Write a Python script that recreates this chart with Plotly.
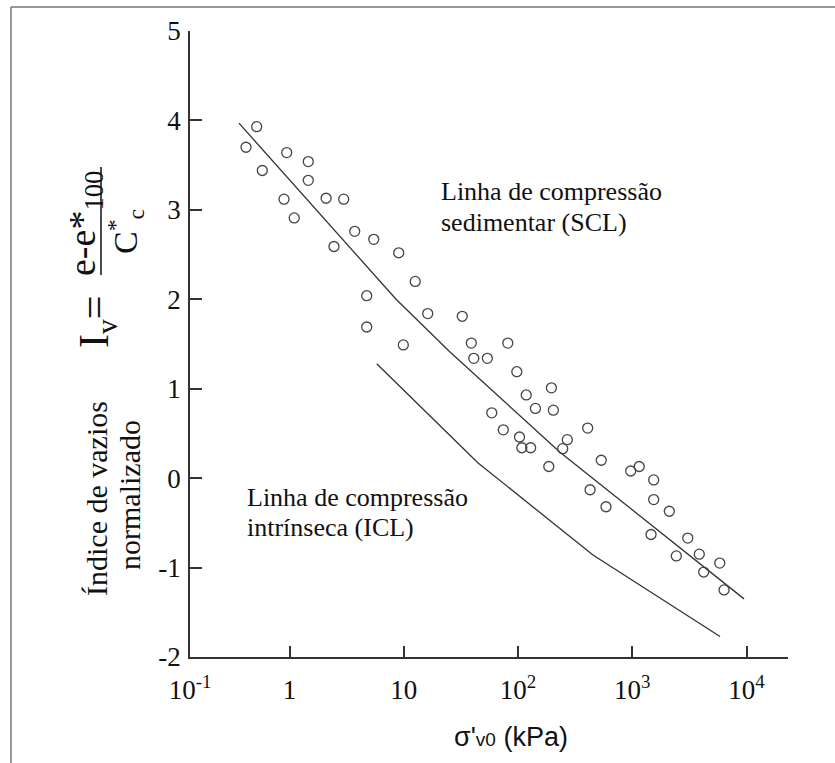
import plotly.graph_objects as go

# ---- data ----
sigma_pts = [0.516, 0.416, 0.945, 1.46, 0.578, 1.46, 0.895, 2.09, 2.98, 1.10,
             3.72, 5.46, 2.45, 9.03, 12.6, 4.74, 16.2, 32.5, 4.74, 9.91,
             39.0, 81.4, 41.0, 53.9, 97.6, 196, 118, 142, 204, 58.9,
             74.3, 407, 103, 270, 246, 108, 129, 535, 186, 969,
             1150, 427, 589, 1540, 1540, 2110, 1460, 3060, 2430, 3860,
             5830, 4220, 6360]
iv_pts = [3.93, 3.70, 3.64, 3.54, 3.44, 3.33, 3.12, 3.13, 3.12, 2.91,
          2.76, 2.67, 2.59, 2.52, 2.20, 2.04, 1.84, 1.81, 1.69, 1.49,
          1.51, 1.51, 1.34, 1.34, 1.19, 1.01, 0.93, 0.78, 0.76, 0.73,
          0.54, 0.56, 0.46, 0.43, 0.33, 0.34, 0.34, 0.20, 0.13, 0.08,
          0.13, -0.13, -0.32, -0.02, -0.24, -0.37, -0.63, -0.67, -0.87, -0.85,
          -0.95, -1.05, -1.25]

scl_sigma = [0.361, 8.56, 25.4, 233, 9510]
scl_iv = [3.97, 2.00, 1.41, 0.29, -1.35]

icl_sigma = [5.80, 44.7, 453, 5860]
icl_iv = [1.28, 0.17, -0.86, -1.77]

x_tick_vals = [10 ** -0.871, 1, 10, 100, 1000, 10000]
x_tick_text = ["10<sup>-1</sup>", "1", "10", "10<sup>2</sup>", "10<sup>3</sup>", "10<sup>4</sup>"]
y_tick_vals = [-2, -1, 0, 1, 2, 3, 4, 5]
y_tick_text = ["-2", "-1", "0", "1", "2", "3", "4", "5"]

SERIF = "Liberation Serif, Times New Roman, serif"
SANS = "Liberation Sans, Arial, sans-serif"
INK = "#333333"

fig = go.Figure()
fig.add_trace(go.Scatter(x=scl_sigma, y=scl_iv, mode="lines",
                         line=dict(color=INK, width=1.3), showlegend=False))
fig.add_trace(go.Scatter(x=icl_sigma, y=icl_iv, mode="lines",
                         line=dict(color=INK, width=1.3), showlegend=False))
fig.add_trace(go.Scatter(x=sigma_pts, y=iv_pts, mode="markers",
                         marker=dict(symbol="circle-open", size=10, color="#444444",
                                     line=dict(width=1.3)),
                         showlegend=False))

L, R, T, B = 190, 47, 31, 106
W, H = 835, 763
PW, PH = W - L - R, H - T - B


def px(xp):
    return (xp - L) / PW


def py(yp):
    return (H - B - yp) / PH


annotations = [
    # leader lines
    dict(x=8.56, y=2.00, xref="x", yref="y", text="", showarrow=True, arrowhead=0,
         arrowwidth=1.2, arrowcolor=INK, ax=85, ay=-57, standoff=0),
    dict(x=29.2, y=0.40, xref="x", yref="y", text="", showarrow=True, arrowhead=0,
         arrowwidth=1.2, arrowcolor=INK, ax=-94, ay=30, standoff=0),
    # curve labels
    dict(x=px(439), y=py(191), xref="paper", yref="paper", text="Linha de compressão",
         showarrow=False, xanchor="left", yanchor="middle",
         font=dict(family=SERIF, size=26, color="#111")),
    dict(x=px(439), y=py(222), xref="paper", yref="paper", text="sedimentar (SCL)",
         showarrow=False, xanchor="left", yanchor="middle",
         font=dict(family=SERIF, size=26, color="#111")),
    dict(x=px(245), y=py(497), xref="paper", yref="paper", text="Linha de compressão",
         showarrow=False, xanchor="left", yanchor="middle",
         font=dict(family=SERIF, size=26, color="#111")),
    dict(x=px(245), y=py(527), xref="paper", yref="paper", text="intrínseca (ICL)",
         showarrow=False, xanchor="left", yanchor="middle",
         font=dict(family=SERIF, size=26, color="#111")),
    # y label
    dict(x=px(97), y=py(499), xref="paper", yref="paper", text="Índice de vazios",
         showarrow=False, textangle=-90, xanchor="center", yanchor="middle",
         font=dict(family=SERIF, size=30, color="#111")),
    dict(x=px(129), y=py(495), xref="paper", yref="paper", text="normalizado",
         showarrow=False, textangle=-90, xanchor="center", yanchor="middle",
         font=dict(family=SERIF, size=30, color="#111")),
    dict(x=px(97), y=py(322), xref="paper", yref="paper", text="I<sub>v</sub>=",
         showarrow=False, textangle=-90, xanchor="center", yanchor="middle",
         font=dict(family=SERIF, size=42, color="#111")),
    dict(x=px(85), y=py(224), xref="paper", yref="paper", text="e-e*<sub>100</sub>",
         showarrow=False, textangle=-90, xanchor="center", yanchor="middle",
         font=dict(family=SERIF, size=38, color="#111")),
    dict(x=px(125), y=py(232), xref="paper", yref="paper", text="C<sup>*</sup><sub>c</sub>",
         showarrow=False, textangle=-90, xanchor="center", yanchor="middle",
         font=dict(family=SERIF, size=34, color="#111")),
    # x title
    dict(x=px(511), y=py(737), xref="paper", yref="paper",
         text="σ'<span style='font-size:19px'>v0</span> (kPa)",
         showarrow=False, xanchor="center", yanchor="middle",
         font=dict(family=SANS, size=27, color="#111")),
]

shapes = [
    # fraction bar
    dict(type="line", xref="paper", yref="paper", x0=px(101), x1=px(101),
         y0=py(167), y1=py(275), line=dict(color="#111", width=1.5)),
    # outer frame (left and top edges)
    dict(type="line", xref="paper", yref="paper", x0=px(11), x1=px(11),
         y0=py(7), y1=py(780), line=dict(color="#777777", width=1.5)),
    dict(type="line", xref="paper", yref="paper", x0=px(11), x1=px(850),
         y0=py(7), y1=py(7), line=dict(color="#777777", width=1.5)),
]

fig.update_layout(
    width=W, height=H,
    margin=dict(l=L, r=R, t=T, b=B),
    paper_bgcolor="white", plot_bgcolor="white",
    annotations=annotations, shapes=shapes,
    showlegend=False,
)
fig.update_xaxes(type="log", range=[-0.871, 4.363], tickvals=x_tick_vals, ticktext=x_tick_text,
                 ticks="inside", ticklen=11, tickwidth=1.5, tickcolor=INK,
                 showline=True, linecolor=INK, linewidth=1.5, showgrid=False, zeroline=False,
                 tickfont=dict(family=SERIF, size=27, color="#111"), ticklabelstandoff=8)
fig.update_yaxes(range=[-2, 5], tickvals=y_tick_vals, ticktext=y_tick_text,
                 ticks="inside", ticklen=12, tickwidth=1.5, tickcolor=INK,
                 showline=True, linecolor=INK, linewidth=1.5, showgrid=False, zeroline=False,
                 tickfont=dict(family=SERIF, size=27, color="#111"), ticklabelstandoff=2)

fig.write_html("out.html")
